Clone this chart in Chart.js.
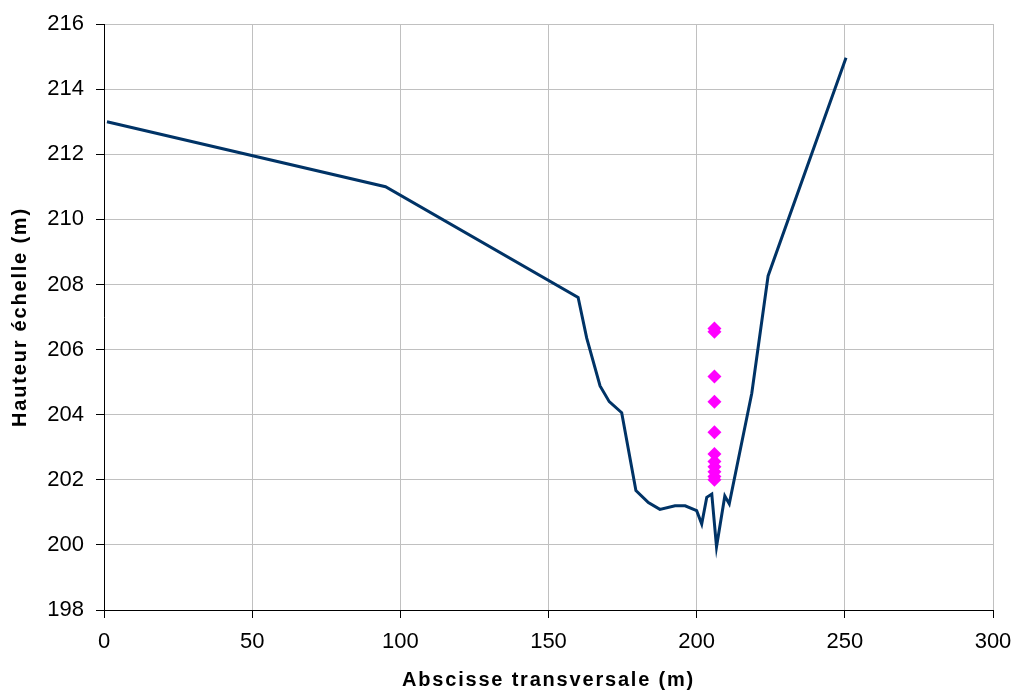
<!DOCTYPE html>
<html>
<head>
<meta charset="utf-8">
<script src="https://cdn.jsdelivr.net/npm/chart.js@4"></script>
<style>
  html, body { margin: 0; padding: 0; background: #fff; }
  #wrap { width: 1018px; height: 697px; }
</style>
</head>
<body>
<div id="wrap"><canvas id="profil" width="1018" height="697"></canvas></div>
<script>
// Profil en travers (abscisse m, hauteur m)
const abscisses = [1, 95, 160, 162.9, 167.4, 170.5, 174.7, 179.5, 183.7, 187.6, 192.7, 196.1, 200, 201.7, 203.4, 205.1, 206.7, 209.5, 211, 218.6, 224.1, 250.4];
const hauteurs = [213, 211, 207.6, 206.35, 204.88, 204.4, 204.06, 201.67, 201.3, 201.09, 201.2, 201.2, 201.05, 200.64, 201.46, 201.56, 199.94, 201.5, 201.26, 204.66, 208.26, 214.96];

// Relevés d'échelle
const mesuresX = [206, 206, 206, 206, 206, 206, 206, 206, 206, 206, 206];
const mesuresY = [206.65, 206.55, 205.17, 204.4, 203.46, 202.79, 202.56, 202.4, 202.25, 202.1, 202.0];

const ticksX = [0, 50, 100, 150, 200, 250, 300];
const ticksY = [198, 200, 202, 204, 206, 208, 210, 212, 214, 216];

const profil = abscisses.map((x, i) => ({ x: x, y: hauteurs[i] }));
const mesures = mesuresX.map((x, i) => ({ x: x, y: mesuresY[i] }));

// titres d'axes un peu espacés comme dans l'original
function titreEspace(s) {
  if (s._espace) return;
  const dessiner = s.drawTitle;
  s.drawTitle = function () {
    this.ctx.save();
    this.ctx.letterSpacing = '1.8px';
    dessiner.call(this);
    this.ctx.restore();
  };
  s._espace = true;
}

// zone du graphique fixe : pas de marge ajoutée pour les étiquettes
function sansMarge(s) {
  s.paddingLeft = 0;
  s.paddingRight = 0;
  s.paddingTop = 0;
  s.paddingBottom = 0;
}

const ctx = document.getElementById('profil').getContext('2d');
new Chart(ctx, {
  type: 'scatter',
  data: {
    datasets: [
      {
        label: 'Mesures',
        data: mesures,
        pointStyle: 'rectRot',
        pointRadius: 7,
        backgroundColor: '#FF00FF',
        borderColor: '#FF00FF',
        borderWidth: 0,
        showLine: false
      },
      {
        label: 'Profil',
        data: profil,
        showLine: true,
        borderColor: '#003366',
        borderWidth: 3,
        pointRadius: 0,
        tension: 0
      }
    ]
  },
  options: {
    responsive: false,
    animation: false,
    layout: { padding: { left: 0, top: 24, right: 25, bottom: 0 } },
    plugins: {
      legend: { display: false },
      tooltip: { enabled: false }
    },
    scales: {
      x: {
        type: 'linear',
        min: 0,
        max: 300,
        afterBuildTicks: s => { s.ticks = ticksX.map(v => ({ value: v })); },
        afterFit: s => { s.height = 87; sansMarge(s); titreEspace(s); },
        grid: { color: '#C0C0C0', tickColor: '#000', tickLength: 8 },
        border: { color: '#000', width: 1 },
        ticks: { color: '#000', font: { family: 'Liberation Sans', size: 22 }, padding: 11 },
        title: {
          display: true,
          text: 'Abscisse transversale (m)',
          color: '#000',
          font: { family: 'Liberation Sans', size: 20, weight: 'bold' },
          padding: { top: 0, bottom: 5 }
        }
      },
      y: {
        type: 'linear',
        min: 198,
        max: 216,
        afterBuildTicks: s => { s.ticks = ticksY.map(v => ({ value: v })); },
        afterFit: s => { s.width = 104; sansMarge(s); titreEspace(s); },
        grid: { color: '#C0C0C0', tickColor: '#000', tickLength: 8 },
        border: { color: '#000', width: 1 },
        ticks: { color: '#000', font: { family: 'Liberation Sans', size: 22 }, padding: 12 },
        title: {
          display: true,
          text: 'Hauteur échelle (m)',
          color: '#000',
          font: { family: 'Liberation Sans', size: 20, weight: 'bold' },
          padding: { top: 8, bottom: 0 }
        }
      }
    }
  }
});
</script>
</body>
</html>
